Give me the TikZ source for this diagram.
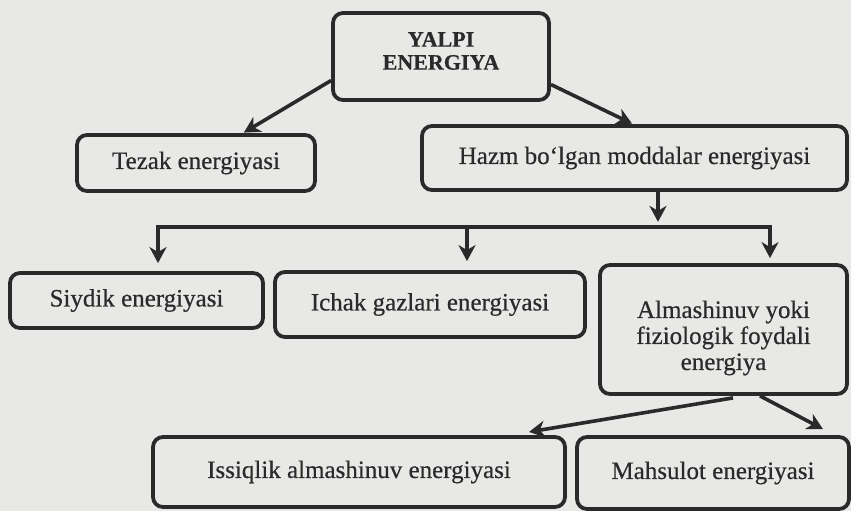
\documentclass[tikz,border=0pt]{standalone}
\usepackage{fontspec}
\setmainfont{Liberation Serif}[FakeBold=0.5]
\usetikzlibrary{arrows.meta,calc}
\definecolor{ink}{HTML}{2A2A2A}
\definecolor{paper}{HTML}{E8E8E6}
\begin{document}
\begin{tikzpicture}[x=1pt,y=-1pt,
  box/.style={draw=ink, line width=3.8pt, rounded corners=10pt, inner sep=0pt,
    align=center, text=ink, font=\fontsize{25}{26}\selectfont},
  txt/.style={inner sep=0pt, align=center, text=ink, font=\fontsize{25}{26}\selectfont},
  tip/.tip={Stealth[length=16pt,width=17pt,inset=5pt]},
  conn/.style={draw=ink, line width=3.6pt, -tip},
  both/.style={draw=ink, line width=3.6pt, tip-tip},
]
\fill[paper] (0,0) rectangle (851,511);
\useasboundingbox (0,0) rectangle (851,511);

% boxes
\node[box, minimum width=216pt, minimum height=87pt] (top) at (441,56.5) {};
\node[txt, font=\bfseries\fontsize{22}{23}\selectfont] (toptext) at (441,51) {YALPI\\ENERGIYA};
\node[box, minimum width=238pt, minimum height=56pt] (tezak) at (196,163) {Tezak energiyasi};
\node[box, minimum width=425pt, minimum height=64pt] (hazm) at (634.5,158) {Hazm bo‘lgan moddalar energiyasi};
\node[box, minimum width=253pt, minimum height=55pt] (siydik) at (136.5,300.5) {Siydik energiyasi};
\node[box, minimum width=310pt, minimum height=65pt] (ichak) at (430,304.5) {Ichak gazlari energiyasi};
\node[box, minimum width=247pt, minimum height=129pt] (alm) at (723.5,329.5) {};
\node[txt] (almtext) at (723.5,338) {Almashinuv yoki\\fiziologik foydali\\energiya};
\node[box, minimum width=412pt, minimum height=70pt] (issiq) at (359,472) {Issiqlik almashinuv energiyasi};
\node[box, minimum width=272pt, minimum height=72pt] (mahs) at (713,473) {Mahsulot energiyasi};

% bus coordinates
\coordinate (busL) at (158,227);
\coordinate (busM) at (467,227);
\coordinate (busR) at (770,227);

% connectors
\draw[conn, shorten >=1pt] ($(top.west)+(0,24)$) -- ($(tezak.north)+(47,0)$);
\draw[conn, shorten >=1pt] ($(top.east)+(0,28)$) -- ($(hazm.north)+(-1.5,0)$);
\draw[conn] ($(hazm.south)+(23.5,0)$) -- ++(0,30);
\draw[both, shorten <=8pt, shorten >=5pt] (busL |- siydik.north) -- (busL) -- (busR) -- (busR |- alm.north);
\draw[conn, shorten >=9pt] (busM) -- (busM |- ichak.north);
\draw[conn, shorten >=1pt] ($(alm.south)+(9.5,2)$) -- ($(issiq.north)+(169,-3)$);
\draw[conn] ($(alm.south)+(36.5,0)$) -- ($(mahs.north)+(110,-6)$);
\end{tikzpicture}
\end{document}
